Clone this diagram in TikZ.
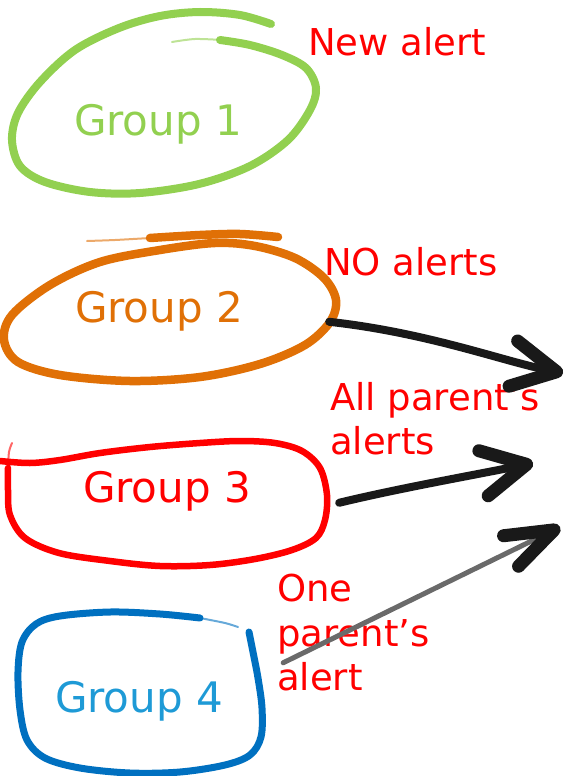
\documentclass[tikz,border=0pt]{standalone}
\usepackage{fontspec}
\setmainfont{DejaVu Sans}
\usetikzlibrary{arrows.meta}
\definecolor{grpgreen}{HTML}{92D050}
\definecolor{grporange}{HTML}{E07006}
\definecolor{grpred}{HTML}{FF0000}
\definecolor{grpblue}{HTML}{0070C0}
\definecolor{grpbluetext}{HTML}{1E9AD6}
\definecolor{arrowgray}{HTML}{6A6A6A}

\begin{document}
\begin{tikzpicture}[
        x=1pt, y=-1pt,
        grpText/.style={inner sep=0pt, anchor=base, font=\fontsize{42}{50}\selectfont},
        alertText/.style={inner sep=0pt, anchor=north west, align=left, text=grpred, font=\fontsize{37}{44.5}\selectfont},
        brush/.style={line width=7.5pt, line cap=round, line join=round},
        brushTail/.style={line width=2pt, line cap=round, opacity=0.6},
        bigArrow/.style={line width=8pt, line cap=round, draw=black!90,
            -{Straight Barb[length=44pt, width=46pt, line width=13pt, round, color=black!90]}}
    ]
    \useasboundingbox (0,0) rectangle (566,776);

    %% --- Group labels ---
    \node[grpText, text=grpgreen]    (g1) at (158,135) {Group 1};
    \node[grpText, text=grporange]   (g2) at (159,322) {Group 2};
    \node[grpText, text=grpred]      (g3) at (167,502) {Group 3};
    \node[grpText, text=grpbluetext] (g4) at (139,712) {Group 4};

    %% --- Hand drawn outlines ---
    \draw[brush, grpgreen, line width=8pt] plot[smooth, tension=0.55] coordinates {
        (271,24) (240,15) (200,12) (160,16) (119,28) (75,50) (40,82) (18,113) (12,140)
        (20,166) (45,182) (90,192) (140,193) (199,184) (250,166) (288,140) (310,110)
        (316,88) (306,68) (282,55) (250,45) (220,40)};
    \draw[brushTail, grpgreen] plot[smooth] coordinates {(222,40) (195,39) (172,42)};

    \draw[brush, grporange, line width=8.5pt] plot[smooth, tension=0.55] coordinates {
        (150,238) (200,235) (240,234) (278,237)};
    \draw[brushTail, grporange] plot[smooth] coordinates {(150,238) (115,240) (87,241)};
    \draw[brush, grporange, line width=8.5pt] plot[smooth cycle, tension=0.55] coordinates {
        (215,243) (160,250) (100,262) (50,285) (12,315) (4,340) (18,362) (60,375)
        (130,381) (200,377) (260,364) (305,345) (330,322) (336,300) (324,278)
        (295,258) (255,246)};

    \draw[brush, grpred, line width=6.5pt] plot[smooth, tension=0.55] coordinates {
        (0,461) (30,463) (60,460) (100,453) (150,447) (200,443) (240,441) (275,443)
        (302,451) (320,468) (327,495) (325,520) (316,538) (292,550) (255,559)
        (210,565) (160,566) (110,561) (59,553) (25,538) (10,515) (8,490) (8,468)};
    \draw[brushTail, grpred] plot[smooth] coordinates {(8,468) (9,452) (12,443)};

    \draw[brush, grpblue, line width=7pt] plot[smooth, tension=0.55] coordinates {
        (249,632) (253,652) (258,678) (262,708) (261,737) (250,755) (225,765)
        (180,772) (130,773) (80,768) (45,758) (27,740) (20,710) (18,672) (22,642)
        (36,624) (60,616) (110,612) (160,614) (200,618)};
    \draw[brushTail, grpblue] plot[smooth] coordinates {(200,618) (225,623) (238,627)};

    %% --- Alert labels ---
    \node[alertText, anchor=base west] (newal) at (308,56)  {New alert};
    \node[alertText, anchor=base west] (noal)  at (324,275) {NO alerts};
    \node[alertText] (allal) at (330,382) {All parent’s\\alerts};
    \node[alertText] (oneal) at (277,574) {One\\parent’s\\alert};

    %% --- Arrow ends ---
    \coordinate (tip1) at (563,373);
    \coordinate (tip2) at (533,463);
    \coordinate (tip3) at (560,527);

    %% --- Arrows ---
    \draw[bigArrow] ([shift={(86,11)}]g2.east) .. controls (430,333) and (505,362) .. (tip1);
    \draw[bigArrow] ([shift={(88,12)}]g3.east) .. controls (400,488) and (480,474) .. (tip2);
    \draw[bigArrow, draw=arrowgray, line width=5pt,
          -{Straight Barb[length=48pt, width=34pt, line width=13pt, round, color=black!90]}]
        ([shift={(60,-38)}]g4.east) -- (tip3);

\end{tikzpicture}
\end{document}
